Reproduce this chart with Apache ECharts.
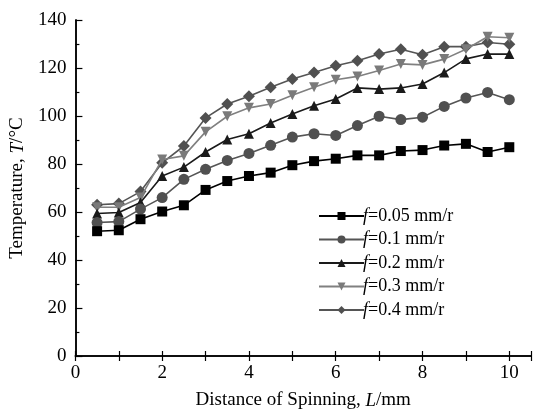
<!DOCTYPE html>
<html>
<head>
<meta charset="utf-8">
<script src="https://cdn.jsdelivr.net/npm/echarts@6/dist/echarts.min.js"></script>
<style>
html, body { margin: 0; padding: 0; background: #fff; }
#chart { width: 534px; height: 415px; }
</style>
</head>
<body>
<div id="chart"></div>
<script>
// distance of spinning L (mm)
const distance = [0.5, 1, 1.5, 2, 2.5, 3, 3.5, 4, 4.5, 5, 5.5, 6, 6.5, 7, 7.5, 8, 8.5, 9, 9.5, 10];
// temperature T (°C) per feed rate
const tempF005 = [52, 52.4, 57, 60.2, 62.8, 69.2, 72.9, 75, 76.4, 79.5, 81.2, 82.2, 83.6, 83.6, 85.4, 85.8, 87.7, 88.4, 85, 87];
const tempF01 = [55.6, 56, 61.2, 66, 73.6, 77.8, 81.5, 84.4, 87.8, 91.2, 92.6, 91.9, 96, 99.9, 98.5, 99.5, 104, 107.5, 109.8, 106.8];
const tempF02 = [59.4, 59.8, 64, 75, 78.7, 85, 90.2, 92.6, 97.1, 100.8, 104.3, 107.1, 111.7, 111.2, 111.7, 113.3, 118.1, 123.8, 125.8, 125.8];
const tempF03 = [62, 62, 66, 81.9, 83.4, 93.4, 99.9, 103.4, 105, 108.6, 112, 115.1, 116.5, 119, 121.7, 121.3, 123.7, 127.8, 133, 132.6];
const tempF04 = [63, 63.5, 68.5, 80.5, 87.5, 99.2, 105, 108.2, 112, 115.4, 118.1, 120.9, 123, 125.8, 127.8, 125.5, 128.9, 128.9, 130.6, 129.9];
const feedLabels = ["0.05", "0.1", "0.2", "0.3", "0.4"];

const FONT = "Liberation Serif";
const pairs = (ys) => distance.map((x, i) => [x, ys[i]]);

function mkSeries(idx, ys, symbol, color, lineColor, size, rotate) {
	return {
		name: feedLabels[idx],
		type: "line",
		data: pairs(ys),
		symbol: symbol,
		symbolSize: size,
		symbolRotate: rotate || 0,
		showAllSymbol: true,
		lineStyle: { color: lineColor, width: 1.6 },
		itemStyle: { color: color },
		emphasis: { disabled: true },
		z: 10 - idx,
	};
}

const chart = echarts.init(document.getElementById("chart"));
chart.setOption({
	animation: false,
	grid: { left: 73, top: 20, right: 2, bottom: 58 },
	legend: {
		orient: "vertical",
		left: 313,
		top: 202,
		itemWidth: 45,
		itemHeight: 10,
		itemGap: 5.5,
		data: feedLabels,
		formatter: (n) => `{i|f}=${n} mm/r`,
		textStyle: {
			fontFamily: FONT,
			fontSize: 18,
			color: "#000",
			padding: [0, 0, 0, -6],
			rich: { i: { fontStyle: "italic", fontFamily: FONT, fontSize: 18, color: "#000" } },
		},
	},
	xAxis: [
		{
			type: "value",
			min: 0,
			max: 10.5,
			interval: 1,
			name: "Distance of Spinning, {i|L}/mm",
			nameLocation: "middle",
			nameGap: 35,
			nameTextStyle: {
				fontFamily: FONT,
				fontSize: 19,
				color: "#000",
				rich: { i: { fontStyle: "italic", fontFamily: FONT, fontSize: 19, color: "#000" } },
			},
			axisLine: { lineStyle: { color: "#000", width: 1.5 } },
			axisTick: { inside: true, length: 5, lineStyle: { color: "#000", width: 1.2 } },
			axisLabel: {
				fontFamily: FONT,
				fontSize: 19,
				color: "#000",
				margin: 8,
				formatter: (v) => (v % 2 === 0 ? String(v) : ""),
			},
			splitLine: { show: false },
		},
		{
			type: "value",
			position: "top",
			min: 0,
			max: 10.5,
			interval: 1,
			axisLine: { show: true, lineStyle: { color: "#000", width: 1.5 } },
			axisTick: { inside: true, length: 5, lineStyle: { color: "#000", width: 1.2 } },
			axisLabel: { show: false },
			splitLine: { show: false },
		},
	],
	yAxis: [
		{
			type: "value",
			min: 0,
			max: 140,
			interval: 20,
			name: "Temperature, {i|T}/°C",
			nameLocation: "middle",
			nameGap: 41,
			nameTextStyle: {
				fontFamily: FONT,
				fontSize: 19,
				color: "#000",
				rich: { i: { fontStyle: "italic", fontFamily: FONT, fontSize: 19, color: "#000" } },
			},
			axisLine: { show: true, lineStyle: { color: "#000", width: 1.5 } },
			axisTick: { inside: true, length: 7, lineStyle: { color: "#000", width: 1.2 } },
			minorTick: { show: true, splitNumber: 2, length: 4, lineStyle: { color: "#000", width: 1.2 } },
			axisLabel: { fontFamily: FONT, fontSize: 19, color: "#000", margin: 9 },
			splitLine: { show: false },
		},
		{
			type: "value",
			position: "right",
			min: 0,
			max: 140,
			interval: 20,
			axisLine: { show: true, lineStyle: { color: "#000", width: 1.5 } },
			axisTick: { show: false },
			axisLabel: { show: false },
			splitLine: { show: false },
		},
	],
	series: [
		mkSeries(0, tempF005, "rect", "#000", "#000", 10),
		mkSeries(1, tempF01, "circle", "#505050", "#555", 11),
		mkSeries(2, tempF02, "triangle", "#1a1a1a", "#1a1a1a", 10),
		mkSeries(3, tempF03, "triangle", "#7a7a7a", "#808080", 10, 180),
		mkSeries(4, tempF04, "diamond", "#505050", "#555", 12),
	],
});
</script>
</body>
</html>
